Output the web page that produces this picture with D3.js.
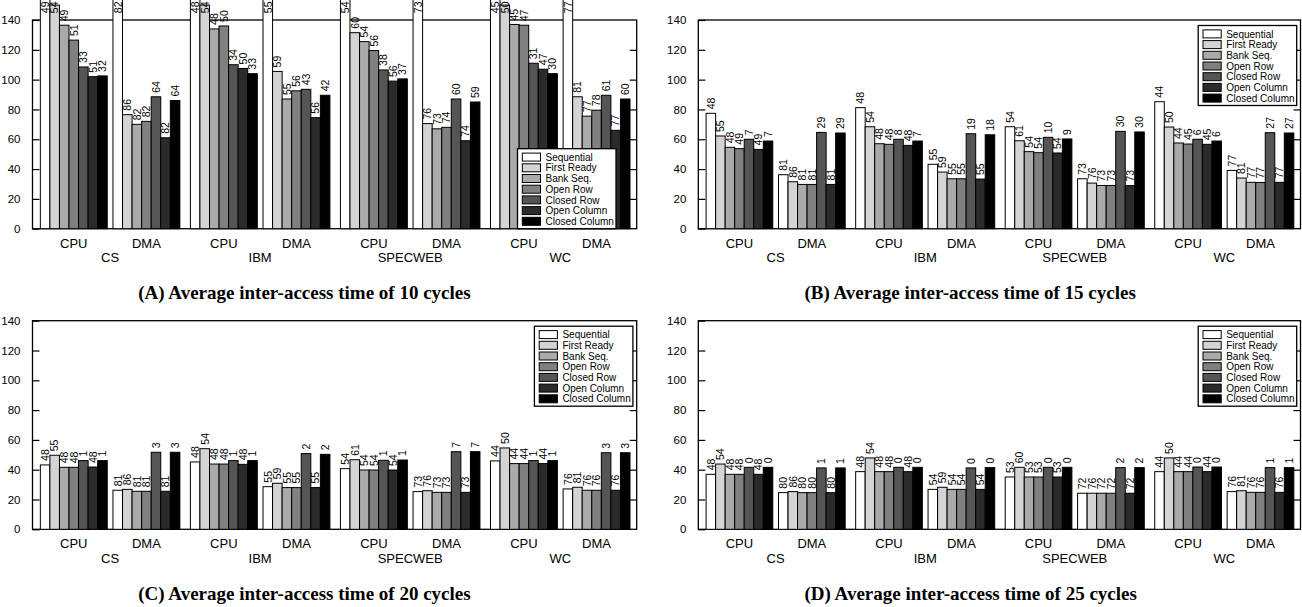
<!DOCTYPE html>
<html><head><meta charset="utf-8">
<script src="https://cdn.jsdelivr.net/npm/d3@7"></script>
<style>html,body{margin:0;padding:0;background:#fff;}svg{display:block;}</style>
</head><body>
<script>
const workloads = ["CS","IBM","SPECWEB","WC"];
const kinds = ["CPU","DMA"];
const series = ["Sequential","First Ready","Bank Seq.","Open Row","Closed Row","Open Column","Closed Column"];
const colors = ["#ffffff","#d4d4d4","#aaaaaa","#808080","#555555","#2b2b2b","#000000"];
const yTicks = [0,20,40,60,80,100,120,140];
const titles = ["(A) Average inter-access time of 10 cycles","(B) Average inter-access time of 15 cycles","(C) Average inter-access time of 20 cycles","(D) Average inter-access time of 25 cycles"];

// values: 8 groups (CS CPU, CS DMA, IBM CPU, IBM DMA, SPECWEB CPU, SPECWEB DMA, WC CPU, WC DMA) x 7 series
const valuesA = [
 [160,150,136.5,126.5,108.5,102,102.5],
 [160,76.5,70,72,88.5,61,86],
 [160,150,134,136,110,107.5,104],
 [160,105.5,87,92.5,93.5,74.5,89.5],
 [160,131.5,125.5,119.5,106.5,99,100.5],
 [160,70.5,67,68,87,59,85],
 [160,150,137,136.5,111,107,104],
 [160,88.5,75.5,79.5,89.5,66,87]
];
const labelsA = [
 [49,54,49,51,33,51,32],[82,86,82,82,64,82,64],[48,54,48,50,34,50,33],[55,59,55,56,43,56,42],
 [54,60,54,56,38,56,37],[73,76,73,74,60,74,59],[45,50,45,47,31,47,30],[77,81,77,78,61,77,60]
];
const valuesB = [
 [77.4,62.2,54.6,53.7,60,53.2,58.8],
 [36.2,31.5,29.7,29.7,64.6,29.7,64.2],
 [81.2,68.4,57,56.6,60,55.9,58.8],
 [43.2,38,33.5,33.5,63.7,33.3,63],
 [68.4,59,51.7,51,61.3,50.8,60.2],
 [33.5,30.6,29,29,65.3,28.9,64.9],
 [85.2,68.2,57.5,56.8,60,56.6,58.8],
 [39.1,34,31.1,31,64.4,31.1,64.2]
];
const labelsB = [
 [48,55,48,49,7,49,7],[81,86,81,81,29,81,29],[48,54,48,48,8,48,7],[55,59,55,55,19,55,18],
 [54,61,54,54,10,54,9],[73,76,73,73,30,73,30],[44,50,44,45,6,45,6],[77,81,77,77,27,77,27]
];
const valuesC = [
 [43.2,49.7,41.6,41.6,46.1,41.8,46.1],
 [26.2,26.8,25.5,25.5,51.7,25.5,51.7],
 [45.2,54.1,43.8,43.8,46.1,43.6,46.1],
 [28.6,30.9,28,28,50.8,28,50.3],
 [40.7,46.7,39.8,39.8,46.3,39.8,46.5],
 [25.3,25.9,24.8,24.8,52.1,24.8,52.1],
 [45.9,54.6,44.1,44.1,46.1,44.1,46.1],
 [27.1,28.2,26.2,26.2,51.4,26.2,51.4]
];
const labelsC = [
 [48,55,48,48,1,48,1],[81,86,81,81,3,81,3],[48,54,48,48,1,48,1],[55,59,55,55,2,55,2],
 [54,61,54,54,1,54,1],[73,76,73,73,7,73,7],[44,50,44,44,1,44,1],[76,81,76,76,3,76,3]
];
const valuesD = [
 [36.9,43.8,36.9,36.9,41.6,36.9,41.6],
 [24.6,25.3,24.6,24.6,41.2,24.6,41.2],
 [38.7,47.9,38.7,38.7,41.6,38.7,41.6],
 [26.8,28.2,26.8,26.8,41.2,26.8,41.4],
 [35.1,41.6,35.1,35.1,41.6,35.1,41.6],
 [24.2,24.2,24.2,24.2,41.4,24.2,41.4],
 [38.7,47.9,38.7,38.7,41.8,38.7,41.8],
 [25.3,25.9,24.8,24.8,41.4,24.8,41.4]
];
const labelsD = [
 [48,54,48,48,0,48,0],[80,86,80,80,1,80,1],[48,54,48,48,0,48,0],[54,59,54,54,0,54,0],
 [53,60,53,53,0,53,0],[72,76,72,72,2,72,2],[44,50,44,44,0,44,0],[76,81,76,76,1,76,1]
];

const W = 1302, H = 607;
const svg = d3.select("body").append("svg").attr("width", W).attr("height", H);
const sans = "'Liberation Sans', Arial, Helvetica, sans-serif";
const serif = "'Liberation Serif', 'Times New Roman', serif";

const panels = [
 {vals: valuesA, labs: labelsA, left: 32.5, right: 636.7, top: 20, bottom: 228.7, title: titles[0], tx: 138.3, legend: "br"},
 {vals: valuesB, labs: labelsB, left: 698.3, right: 1300.5, top: 20, bottom: 228.7, title: titles[1], tx: 804.5, legend: "tr"},
 {vals: valuesC, labs: labelsC, left: 32.5, right: 636.7, top: 320.7, bottom: 529.3, title: titles[2], tx: 138.3, legend: "tr"},
 {vals: valuesD, labs: labelsD, left: 698.3, right: 1300.5, top: 320.7, bottom: 529.3, title: titles[3], tx: 804.5, legend: "tr"}
];

const PITCH = 15.7, DMA_OFF = 7.6;
function groupStart(g){ return Math.floor(g/2)*PITCH + (g%2)*DMA_OFF; }

panels.forEach(p => {
  const x = d3.scaleLinear().domain([-0.82, 62.4]).range([p.left, p.right]);
  const y = d3.scaleLinear().domain([0, 140]).range([p.bottom, p.top]);
  const g = svg.append("g");

  // frame
  g.append("rect").attr("x", p.left).attr("y", p.top)
    .attr("width", p.right - p.left).attr("height", p.bottom - p.top)
    .attr("fill", "none").attr("stroke", "#000").attr("stroke-width", 1.3);

  // y axis left (inward ticks) and right mirror
  const axL = d3.axisLeft(y).tickValues(yTicks).tickSize(-7).tickPadding(12).tickSizeOuter(0);
  const gl = g.append("g").attr("transform", `translate(${p.left},0)`).call(axL);
  gl.select(".domain").remove();
  gl.selectAll("line").attr("stroke", "#000").attr("stroke-width", 1.2);
  gl.selectAll("text").attr("font-family", sans).attr("font-size", 11.5).attr("fill", "#000");
  const axR = d3.axisRight(y).tickValues(yTicks.slice(1, -1)).tickSize(-7).tickFormat("").tickSizeOuter(0);
  const gr = g.append("g").attr("transform", `translate(${p.right},0)`).call(axR);
  gr.select(".domain").remove();
  gr.selectAll("line").attr("stroke", "#000").attr("stroke-width", 1.2);

  // bars
  const bars = [];
  p.vals.forEach((row, gi) => row.forEach((v, si) => bars.push({gi, si, v, lab: p.labs[gi][si]})));
  g.selectAll("rect.bar").data(bars).enter().append("rect").attr("class", "bar")
    .attr("x", d => x(groupStart(d.gi) + d.si))
    .attr("width", d => x(groupStart(d.gi) + d.si + 1) - x(groupStart(d.gi) + d.si))
    .attr("y", d => y(d.v))
    .attr("height", d => y(0) - y(d.v))
    .attr("fill", d => colors[d.si]).attr("stroke", "#000").attr("stroke-width", 1);

  // legend
  const lw = 98.5, lh = 80;
  let lx, ly;
  if (p.legend === "br") { lx = p.right - 20.7 - lw; ly = p.bottom - lh; }
  else { lx = p.right - 3.8 - lw; ly = p.top + 5.5; }
  const lg = g.append("g").attr("transform", `translate(${lx},${ly})`);
  lg.append("rect").attr("width", lw).attr("height", lh).attr("fill", "#fff").attr("stroke", "#000").attr("stroke-width", 1.3);
  series.forEach((s, i) => {
    const cy = 8.4 + i * 10.7;
    lg.append("rect").attr("x", 4.8).attr("y", cy - 4).attr("width", 18.2).attr("height", 8)
      .attr("fill", colors[i]).attr("stroke", "#000").attr("stroke-width", 1);
    lg.append("text").attr("x", 28).attr("y", cy + 3.7).text(s)
      .attr("font-family", sans).attr("font-size", 10).attr("fill", "#000");
  });

  // bar labels
  g.selectAll("text.lab").data(bars).enter().append("text").attr("class", "lab")
    .attr("transform", d => {
      const cx = x(groupStart(d.gi) + d.si + 0.5);
      const ty = d.v > 140 ? 1.5 : y(d.v) - 4;
      return `translate(${cx},${ty}) rotate(-90)`;
    })
    .attr("text-anchor", d => d.v > 140 ? "end" : "start")
    .attr("dy", "0.36em")
    .attr("font-family", sans).attr("font-size", 10.5).attr("fill", "#000")
    .text(d => d.lab);

  // x labels
  for (let gi = 0; gi < 8; gi++) {
    g.append("text").attr("x", x(groupStart(gi) + 3.5)).attr("y", p.bottom + 19)
      .attr("text-anchor", "middle").attr("font-family", sans).attr("font-size", 13).attr("fill", "#000")
      .text(kinds[gi % 2]);
  }
  workloads.forEach((w, wi) => {
    g.append("text").attr("x", x(wi * PITCH + (3.5 + DMA_OFF + 3.5) / 2)).attr("y", p.bottom + 33.6)
      .attr("text-anchor", "middle").attr("font-family", sans).attr("font-size", 13).attr("fill", "#000")
      .text(w);
  });

  // title
  g.append("text").attr("x", p.tx).attr("y", p.bottom + 70.4)
    .attr("font-family", serif).attr("font-weight", "bold").attr("font-size", 19).attr("fill", "#000")
    .text(p.title);
});
</script>
</body></html>
